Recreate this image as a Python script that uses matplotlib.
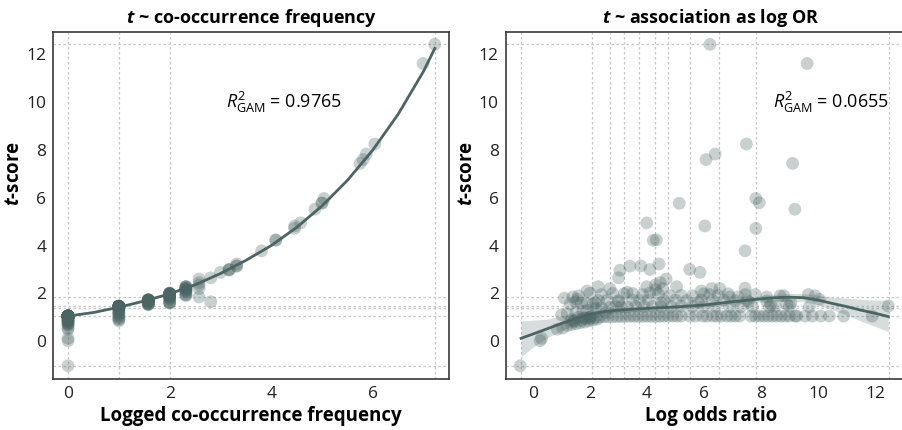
import numpy as np
import matplotlib
matplotlib.use("Agg")
import matplotlib.pyplot as plt

plt.rcParams["font.family"] = ["Open Sans", "DejaVu Sans"]
plt.rcParams["mathtext.fontset"] = "custom"
plt.rcParams["mathtext.rm"] = "Open Sans"
plt.rcParams["mathtext.it"] = "Open Sans:italic"
plt.rcParams["mathtext.bf"] = "Open Sans:bold"
plt.rcParams["mathtext.bfit"] = "Open Sans:bold:italic"

# --- points: (log2 co-occurrence count, log odds ratio, t-score) ---
# count = 1
or_c1 = [1.8, 2.0, 2.2, 2.35, 2.5, 2.65, 2.8, 2.95, 3.1, 3.25, 3.4, 3.55, 3.7,
         3.85, 4.0, 4.15, 4.3, 4.45, 4.6, 4.75, 4.9, 5.05, 5.2, 5.5, 5.7, 5.95,
         6.1, 6.3, 6.45, 6.6, 6.8, 6.95, 7.1, 7.25, 7.65, 7.8, 7.95, 8.1, 8.25,
         8.4, 8.55, 8.7, 8.85, 9.0, 9.2, 9.25, 9.55, 9.8, 10.1, 10.4, 10.9, 11.9,
         0.3, 0.25, -0.45, 0.85, 1.05, 1.2, 1.35, 1.5, 1.65, 1.8, 1.95, 2.1, 2.25,
         1.4, 1.7, 2.0]
t_c1 = [0.98, 0.99, 1.0, 1.01, 1.02, 1.02, 1.03, 1.03, 1.03, 1.04, 1.04, 1.04, 1.04,
        1.04, 1.04, 1.04, 1.04, 1.04, 1.05, 1.05, 1.05, 1.05, 1.05, 1.05, 1.05, 1.05,
        1.05, 1.05, 1.05, 1.05, 1.05, 1.05, 1.05, 1.05, 1.05, 1.05, 1.05, 1.05, 1.05,
        1.05, 1.05, 1.05, 1.05, 1.05, 1.05, 1.05, 1.05, 1.05, 1.05, 1.05, 1.05, 1.05,
        0.12, 0.02, -1.03, 0.5, 0.55, 0.66, 0.7, 0.73, 0.77, 0.8, 0.84, 0.88, 0.92,
        0.82, 0.88, 0.95]
# count = 2
or_c2 = [1.0, 1.2, 1.35, 1.45, 1.5, 1.6, 1.75, 1.85, 1.9, 2.05, 2.2, 2.4, 2.55, 2.7,
         2.9, 3.1, 3.3, 3.6, 3.9, 4.2, 4.5, 4.85, 5.2, 5.6, 6.0, 6.4, 6.9, 7.3, 7.7,
         8.3, 8.5, 9.0, 9.7, 12.47]
t_c2 = [1.1, 1.15, 0.9, 0.85, 1.2, 1.0, 1.25, 0.95, 1.3, 1.05, 1.35, 1.4, 1.2, 1.42,
        1.45, 1.45, 1.44, 1.46, 1.45, 1.46, 1.45, 1.44, 1.46, 1.45, 1.45, 1.46, 1.45,
        1.44, 1.45, 1.44, 1.47, 1.47, 1.44, 1.47]
# count = 3
or_c3 = [1.3, 1.5, 1.55, 1.7, 1.9, 2.1, 2.3, 2.6, 3.0, 3.5, 3.75, 4.05, 4.6, 5.0,
         5.4, 5.9, 6.3, 6.7, 7.1, 7.5, 8.2, 8.35, 8.9, 9.05]
t_c3 = [1.55, 1.65, 1.75, 1.6, 1.58, 1.55, 1.7, 1.72, 1.7, 1.72, 1.7, 1.72, 1.7,
        1.72, 1.7, 1.72, 1.7, 1.72, 1.7, 1.72, 1.68, 1.52, 1.55, 1.6]
# count = 4
or_c4 = [1.1, 1.4, 1.6, 2.0, 2.2, 2.4, 2.8, 3.0, 3.2, 3.5, 3.85, 4.1, 4.4, 4.5, 4.8,
         5.2, 5.6, 5.8, 6.0, 6.2, 6.5, 6.85, 7.2, 7.45, 8.2, 8.8, 9.9, 10.05]
t_c4 = [1.8, 1.85, 1.9, 2.0, 1.6, 1.95, 2.0, 1.65, 1.98, 2.0, 1.95, 2.02, 1.98, 1.6,
        1.9, 1.92, 1.9, 1.62, 1.98, 1.95, 1.92, 1.98, 1.85, 1.95, 1.85, 1.9, 1.9, 1.75]
# count = 5
or_c5 = [1.9, 2.29, 2.7, 3.3, 3.99, 4.3, 5.04, 5.9, 6.27, 6.56, 7.44, 7.8, 8.67, 9.66]
t_c5 = [2.1, 2.28, 2.2, 2.05, 2.28, 2.15, 2.28, 2.1, 2.2, 2.2, 2.22, 1.95, 1.9, 1.95]
# count = 6, 7
or_c6 = [4.67, 4.46, 4.3, 4.55, 6.9]
t_c6 = [2.6, 2.45, 2.35, 2.2, 1.85]
or_c7 = [3.0, 7.55]
t_c7 = [2.65, 1.65]
# larger counts, one point each
freq_hi = [3.0, 3.17, 3.17, 3.17, 3.32, 3.32, 3.32, 3.81, 4.09, 4.09, 4.46, 4.46,
           4.58, 4.86, 5.0, 5.0, 5.04, 5.75, 5.81, 5.87, 6.04, 6.99, 7.22]
or_hi = [5.86, 3.05, 4.1, 5.5, 3.4, 3.78, 4.42, 7.44, 4.22, 4.33, 7.82, 6.03,
         3.99, 9.19, 5.13, 7.94, 7.82, 9.11, 6.07, 6.39, 7.49, 9.62, 6.21]
t_hi = [2.88, 2.97, 3.0, 3.0, 3.14, 3.15, 3.23, 3.78, 4.22, 4.24, 4.72, 4.82,
        4.95, 5.52, 5.77, 5.79, 5.97, 7.44, 7.6, 7.83, 8.25, 11.62, 12.42]

groups = [(0.0, or_c1, t_c1), (1.0, or_c2, t_c2), (1.58, or_c3, t_c3),
          (2.0, or_c4, t_c4), (2.32, or_c5, t_c5), (2.58, or_c6, t_c6),
          (2.81, or_c7, t_c7)]
log_freq = np.concatenate([np.full(len(o), f) for f, o, _ in groups] + [freq_hi])
log_or = np.concatenate([o for _, o, _ in groups] + [or_hi])
t_score = np.concatenate([t for _, _, t in groups] + [t_hi])

# GAM fits
gam1_x = [0, 0.5, 1, 1.5, 2, 2.5, 3, 3.5, 4, 4.5, 5, 5.5, 6, 6.5, 7, 7.22]
gam1_y = [1.05, 1.2, 1.42, 1.68, 1.98, 2.36, 2.83, 3.38, 4.0, 4.76, 5.66, 6.73,
          8.0, 9.5, 11.3, 12.25]
gam2_x = [-0.42, 0, 0.5, 1, 1.5, 2, 2.5, 3, 3.5, 4, 5, 6, 7, 8, 8.5, 9, 9.5, 10,
          10.5, 11, 11.5, 12, 12.47]
gam2_y = [0.12, 0.3, 0.52, 0.74, 0.95, 1.12, 1.24, 1.3, 1.34, 1.37, 1.43, 1.51,
          1.65, 1.77, 1.82, 1.84, 1.82, 1.72, 1.58, 1.45, 1.3, 1.17, 1.03]
gam2_lo = [-0.65, -0.25, 0.15, 0.42, 0.72, 0.95, 1.1, 1.18, 1.23, 1.27, 1.33,
           1.41, 1.54, 1.64, 1.68, 1.68, 1.65, 1.52, 1.32, 1.1, 0.85, 0.62, 0.4]
gam2_hi = [0.85, 0.88, 0.92, 1.06, 1.18, 1.3, 1.38, 1.42, 1.45, 1.47, 1.53, 1.61,
           1.76, 1.9, 1.96, 2.0, 1.99, 1.92, 1.84, 1.8, 1.75, 1.72, 1.72]

# reference lines (summary values of each variable)
t_lines = [-1.03, 1.04, 1.40, 1.47, 1.86, 12.42]
freq_lines = [0, 1, 2, 7.22]
or_lines = [-0.42, 2.06, 2.71, 3.2, 3.71, 4.27, 4.72, 5.5, 6.51, 7.82, 12.49]

base = "#4b6464"
grid_kw = dict(color="#c6c6c6", lw=0.9, ls=(0, (2, 2)), zorder=0)

fig = plt.figure(figsize=(9.02, 4.30), dpi=100)
ax1 = fig.add_axes([0.0591, 0.1193, 0.4387, 0.807])
ax2 = fig.add_axes([0.5606, 0.1193, 0.4549, 0.807])


def style(ax, xlines):
    for v in t_lines:
        ax.axhline(v, **grid_kw)
    for v in xlines:
        ax.axvline(v, **grid_kw)
    for sp in ax.spines.values():
        sp.set_color("#3a3a3a")
        sp.set_linewidth(1.2)
    ax.tick_params(length=0, labelsize=12.5, colors="#222222", pad=5)
    ax.set_ylim(-1.57, 12.95)
    ax.set_yticks([0, 2, 4, 6, 8, 10, 12])
    ax.set_ylabel(r"$\mathbfit{t}$-score", fontsize=13.5, fontweight="bold")
    # put the label's right edge about 29 px left of the spine
    w = ax.get_position().width * fig.get_figwidth() * fig.dpi
    ax.yaxis.set_label_coords(-29.0 / w, 0.59)


# left: t against logged frequency
style(ax1, freq_lines)
ax1.scatter(log_freq, t_score, s=85, color=base, alpha=0.3, edgecolors="none", zorder=2)
ax1.plot(gam1_x, gam1_y, color=base, lw=2, zorder=3)
ax1.set_xlim(-0.29, 7.5)
ax1.set_xticks([0, 2, 4, 6])
ax1.set_xlabel("Logged co-occurrence frequency", fontsize=13.5, fontweight="bold", labelpad=3)
ax1.set_title(r"$\mathbfit{t}$ ~ co-occurrence frequency", fontsize=13, fontweight="bold", pad=6)
ax1.text(3.1, 10.0, r"$R^2_{\mathrm{GAM}}$ = 0.9765", fontsize=13, va="center", ha="left")

# right: t against log odds ratio
style(ax2, or_lines)
ax2.fill_between(gam2_x, gam2_lo, gam2_hi, color=base, alpha=0.22, lw=0, zorder=1)
ax2.scatter(log_or, t_score, s=85, color=base, alpha=0.3, edgecolors="none", zorder=2)
ax2.plot(gam2_x, gam2_y, color=base, lw=2, zorder=3)
ax2.set_xlim(-0.96, 13.44)
ax2.set_xticks([0, 2, 4, 6, 8, 10, 12])
ax2.set_xlabel("Log odds ratio", fontsize=13.5, fontweight="bold", labelpad=3)
ax2.set_title(r"$\mathbfit{t}$ ~ association as log OR", fontsize=13, fontweight="bold", pad=6)
ax2.text(8.42, 10.0, r"$R^2_{\mathrm{GAM}}$ = 0.0655", fontsize=13, va="center", ha="left")

fig.savefig("out.png", dpi=100)
